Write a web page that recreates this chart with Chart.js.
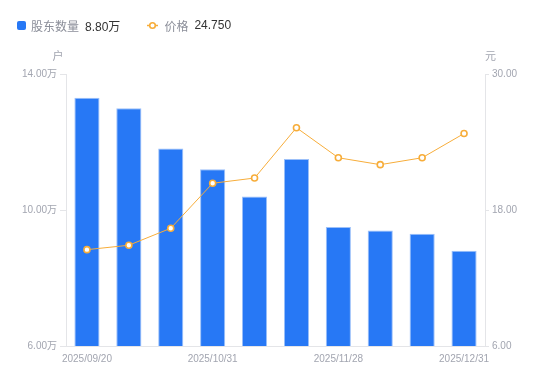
<!DOCTYPE html>
<html>
<head>
<meta charset="utf-8">
<script src="https://cdn.jsdelivr.net/npm/chart.js@4/dist/chart.umd.min.js"></script>
<style>
  html, body { margin: 0; padding: 0; background: #fff; }
  #wrap { position: relative; width: 550px; height: 381px; }
  #legend { position: absolute; left: 17px; top: 16px; height: 18px; display: flex; align-items: center;
    font-family: "Liberation Sans", "Noto Sans CJK SC", sans-serif; font-size: 12px; white-space: nowrap; }
  .item { display: flex; align-items: center; }
  .sq { width: 9px; height: 9px; border-radius: 2px; background: #2778f5; margin-right: 5px; }
  .name { color: #8b8e99; margin-right: 6px; }
  .val { color: #333; }
</style>
</head>
<body>
<div id="wrap">
  <canvas id="c" width="550" height="381"></canvas>
  <div id="legend"></div>
</div>
<script>
const dates = ['2025/09/20', '', '', '2025/10/31', '', '', '2025/11/28', '', '', '2025/12/31'];
const holders = [13.30, 12.99, 11.81, 11.20, 10.40, 11.50, 9.50, 9.40, 9.30, 8.80]; // 万户
const prices = [14.50, 14.89, 16.39, 20.36, 20.82, 25.26, 22.61, 22.00, 22.61, 24.75]; // 元
const leftTicks = [6, 10, 14];
const rightTicks = [6, 18, 30];
const seriesNames = ['股东数量', '价格'];
const unitLeft = '户';
const unitRight = '元';

const BLUE = '#2778f5';
const ORANGE = '#f7ad3a';
const GRAY = '#a2a5b0';
const LINE = '#e4e5e8';
const FONT = '"Liberation Sans", "Noto Sans CJK SC", sans-serif';

// legend (HTML)
const lg = document.getElementById('legend');
lg.innerHTML =
  '<div class="item"><span class="sq"></span><span class="name">' + seriesNames[0] + '</span><span class="val">' +
  holders[holders.length - 1].toFixed(2) + '万</span></div>' +
  '<div class="item" style="margin-left:27px"><svg width="11" height="9" style="margin-right:6px"><line x1="0" y1="4.5" x2="11" y2="4.5" stroke="' + ORANGE + '" stroke-width="1.5"/><circle cx="5.5" cy="4.5" r="2.8" fill="#fff" stroke="' + ORANGE + '" stroke-width="1.6"/></svg><span class="name">' +
  seriesNames[1] + '</span><span class="val">' + prices[prices.length - 1].toFixed(3) + '</span></div>';

const unitPlugin = {
  id: 'units',
  afterDraw(chart) {
    const ctx = chart.ctx;
    ctx.save();
    ctx.font = '11px ' + FONT;
    ctx.fillStyle = GRAY;
    ctx.textBaseline = 'middle';
    ctx.textAlign = 'center';
    ctx.fillText(unitLeft, chart.scales.y.right - 8, 57);
    ctx.textAlign = 'left';
    ctx.fillText(unitRight, chart.scales.y1.left, 57);
    ctx.restore();
  }
};

new Chart(document.getElementById('c'), {
  data: {
    labels: dates,
    datasets: [
      {
        type: 'line',
        label: seriesNames[1],
        data: prices,
        yAxisID: 'y1',
        borderColor: ORANGE,
        borderWidth: 1,
        pointRadius: 3,
        pointBorderWidth: 1.6,
        pointBackgroundColor: '#fff',
        pointBorderColor: ORANGE,
        tension: 0,
        order: 0
      },
      {
        type: 'bar',
        label: seriesNames[0],
        data: holders,
        yAxisID: 'y',
        backgroundColor: BLUE,
        borderColor: '#9cc0f9',
        borderWidth: { top: 1, left: 1, right: 1, bottom: 0 },
        borderSkipped: 'bottom',
        barPercentage: 0.6,
        categoryPercentage: 1,
        order: 1
      }
    ]
  },
  options: {
    responsive: false,
    animation: false,
    layout: { padding: { top: 74, left: 0, right: 0, bottom: 0 } },
    plugins: { legend: { display: false }, tooltip: { enabled: false } },
    scales: {
      x: {
        grid: { display: false, drawTicks: false },
        border: { display: true, color: LINE },
        ticks: { autoSkip: false, maxRotation: 0, padding: 7, color: GRAY, font: { family: FONT, size: 10 } },
        afterFit(s) { s.height = 35; }
      },
      y: {
        position: 'left',
        min: 6, max: 14,
        afterBuildTicks(s) { s.ticks = leftTicks.map(v => ({ value: v })); },
        grid: { drawOnChartArea: false, drawTicks: true, tickLength: 6, color: LINE },
        border: { display: true, color: LINE },
        ticks: { padding: 3, color: GRAY, font: { family: FONT, size: 10 }, callback: v => v.toFixed(2) + '万' },
        afterFit(s) { s.width = 66; }
      },
      y1: {
        position: 'right',
        min: 6, max: 30,
        afterBuildTicks(s) { s.ticks = rightTicks.map(v => ({ value: v })); },
        grid: { drawOnChartArea: false, drawTicks: true, tickLength: 4, color: LINE },
        border: { display: true, color: LINE },
        ticks: { padding: 3, color: GRAY, font: { family: FONT, size: 10 }, callback: v => v.toFixed(2) },
        afterFit(s) { s.width = 65; }
      }
    }
  },
  plugins: [unitPlugin]
});
</script>
</body>
</html>
